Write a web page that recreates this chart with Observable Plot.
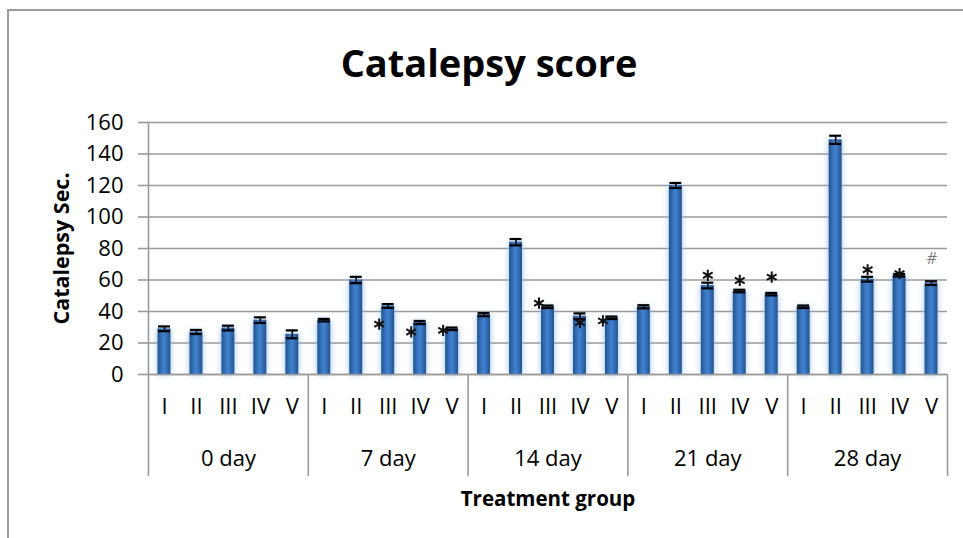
<!DOCTYPE html>
<html>
<head>
<meta charset="utf-8">
<script src="https://cdn.jsdelivr.net/npm/d3@7"></script>
<script src="https://cdn.jsdelivr.net/npm/@observablehq/plot@0.6"></script>
<style>
  html, body { margin: 0; padding: 0; background: #fff; }
  #wrap { position: relative; width: 963px; height: 538px; overflow: hidden; font-family: "Open Sans", Lato, sans-serif; }
  #border { position: absolute; left: 7px; top: 9px; width: 1000px; height: 600px; border-left: 2px solid #9a9a9a; border-top: 2px solid #9a9a9a; }
  #title { position: absolute; left: 0; top: 37px; width: 978px; text-align: center; font-size: 38px; font-weight: bold; color: #000; line-height: 50px; }
  #chart { position: absolute; left: 0; top: 0; }
</style>
</head>
<body>
<div id="wrap">
  <div id="border"></div>
  <div id="chart"></div>
  <div id="title">Catalepsy score</div>
</div>
<script>
// ---- data ----
const days = ["0 day", "7 day", "14 day", "21 day", "28 day"];
const treatments = ["I", "II", "III", "IV", "V"];
const means = {
  "0 day":  [29, 27, 29.5, 34.5, 25.5],
  "7 day":  [34.5, 60, 43.5, 33, 29],
  "14 day": [38, 84, 43, 37, 36],
  "21 day": [43, 120, 56.5, 53, 51],
  "28 day": [43, 149, 60.5, 63, 58]
};
const errors = {
  "0 day":  [1.5, 1.3, 1.5, 1.8, 2.5],
  "7 day":  [0.8, 2.0, 1.2, 1.0, 0.8],
  "14 day": [1.0, 2.0, 0.8, 1.8, 0.8],
  "21 day": [1.0, 1.6, 1.8, 0.8, 0.8],
  "28 day": [0.8, 2.6, 1.5, 0.8, 1.2]
};
const yTicks = [0, 20, 40, 60, 80, 100, 120, 140, 160];
// significance marks: day, treatment, symbol, level (in seconds), side of bar
const markDay   = ["7 day", "7 day", "7 day", "14 day", "14 day", "14 day", "21 day", "21 day", "21 day", "28 day", "28 day", "28 day"];
const markTreat = ["III", "IV", "V", "III", "IV", "V", "III", "IV", "V", "III", "IV", "V"];
const markSym   = ["*", "*", "*", "*", "*", "*", "*", "*", "*", "*", "*", "#"];
const markLevel = [32, 27, 28, 45.3, 33, 34, 63, 59.7, 61.8, 66.5, 64, 73.5];
const markSide  = ["left", "left", "left", "left", "center", "left", "center", "center", "center", "center", "center", "center"];

const yLabel = "Catalepsy Sec.";
const xLabel = "Treatment group";

// ---- tables built from the arrays ----
const keyOf = (d, t) => d + "|" + t;
const rows = days.flatMap(d => treatments.map((t, i) => ({
  day: d, treat: t, key: keyOf(d, t), mean: means[d][i], err: errors[d][i]
})));
const marks = markDay.map((d, i) => ({
  key: keyOf(d, markTreat[i]), sym: markSym[i], level: markLevel[i], side: markSide[i]
}));
const firstKeys = days.map(d => keyOf(d, treatments[0]));
const lastKey = keyOf(days[days.length - 1], treatments[treatments.length - 1]);
const midKeys = days.map(d => ({key: keyOf(d, treatments[2]), day: d}));

const gray = "#9a9a9a";
const font = "'Open Sans', Lato, sans-serif";

const plot = Plot.plot({
  width: 963,
  height: 538,
  marginLeft: 148,
  marginRight: 16,
  marginTop: 122,
  marginBottom: 164,
  style: {fontFamily: font, background: "transparent", overflow: "visible"},
  x: {type: "band", domain: rows.map(d => d.key), padding: 0, round: false, axis: null, label: null},
  y: {domain: [0, 160], axis: null, label: null},
  marks: [
    Plot.gridY(yTicks, {stroke: gray, strokeOpacity: 1, strokeWidth: 1.6}),
    Plot.axisY(yTicks, {tickSize: 10, tickPadding: 15, stroke: gray, strokeWidth: 1.6, fill: "#000", fontSize: 22, tickFormat: d => d, label: null}),
    Plot.barY(rows, {x: "key", y: "mean", fill: "url(#barGrad)", insetLeft: 9.5, insetRight: 9.5, className: "bars"}),
    Plot.ruleY([0], {stroke: gray, strokeWidth: 1.6}),
    // y axis line, extending into the category area
    Plot.ruleX([firstKeys[0]], {x: d => d, dx: -16, stroke: gray, strokeWidth: 1.6, insetBottom: -102}),
    // group separators
    Plot.ruleX(firstKeys.slice(1), {x: d => d, dx: -16, stroke: gray, strokeWidth: 1.6, insetTop: 252, insetBottom: -102}),
    Plot.ruleX([lastKey], {x: d => d, dx: 16, stroke: gray, strokeWidth: 1.6, insetTop: 252, insetBottom: -102}),
    // error bars
    Plot.ruleX(rows, {x: "key", y1: d => d.mean - d.err, y2: d => d.mean + d.err, stroke: "#000", strokeWidth: 1.6}),
    Plot.tickY(rows, {x: "key", y: d => d.mean + d.err, stroke: "#000", strokeWidth: 2.2, insetLeft: 10, insetRight: 10}),
    Plot.tickY(rows, {x: "key", y: d => d.mean - d.err, stroke: "#000", strokeWidth: 2.2, insetLeft: 10, insetRight: 10}),
    // significance marks
    Plot.dot(marks.filter(d => d.sym === "*" && d.side === "left"), {x: "key", y: "level", symbol: "asterisk", r: 5.3, stroke: "#111", strokeWidth: 2, dx: -9}),
    Plot.dot(marks.filter(d => d.sym === "*" && d.side === "center"), {x: "key", y: "level", symbol: "asterisk", r: 5.3, stroke: "#111", strokeWidth: 2}),
    Plot.text(marks.filter(d => d.sym !== "*"), {x: "key", y: "level", text: "sym", fill: "#777", fontSize: 16, fontStyle: "italic"}),
    // category labels
    Plot.axisX({tickSize: 0, tickPadding: 0, fontSize: 22, fill: "#000", tickFormat: d => d.split("|")[1], dy: 24, label: null}),
    Plot.text(midKeys, {x: "key", text: "day", frameAnchor: "bottom", dy: 91, fontSize: 22, fill: "#000"}),
    Plot.text([xLabel], {frameAnchor: "bottom", dy: 131, fontSize: 20.5, fontWeight: "bold", fill: "#000"}),
    Plot.text([yLabel], {frameAnchor: "left", textAnchor: "middle", dx: -86, rotate: -90, fontSize: 21.5, fontWeight: "bold", fill: "#000"})
  ]
});

// gradient and glow for the bars
const svg = d3.select(plot);
const defs = svg.insert("defs", ":first-child");
const g = defs.append("linearGradient").attr("id", "barGrad").attr("x1", "0").attr("x2", "1").attr("y1", "0").attr("y2", "0");
g.append("stop").attr("offset", "0%").attr("stop-color", "#24528f");
g.append("stop").attr("offset", "45%").attr("stop-color", "#3f80cd");
g.append("stop").attr("offset", "55%").attr("stop-color", "#3f80cd");
g.append("stop").attr("offset", "100%").attr("stop-color", "#24528f");
svg.selectAll("g.bars").style("filter", "drop-shadow(0 0 3px rgba(140,185,235,0.9))");

document.getElementById("chart").appendChild(plot);
</script>
</body>
</html>
